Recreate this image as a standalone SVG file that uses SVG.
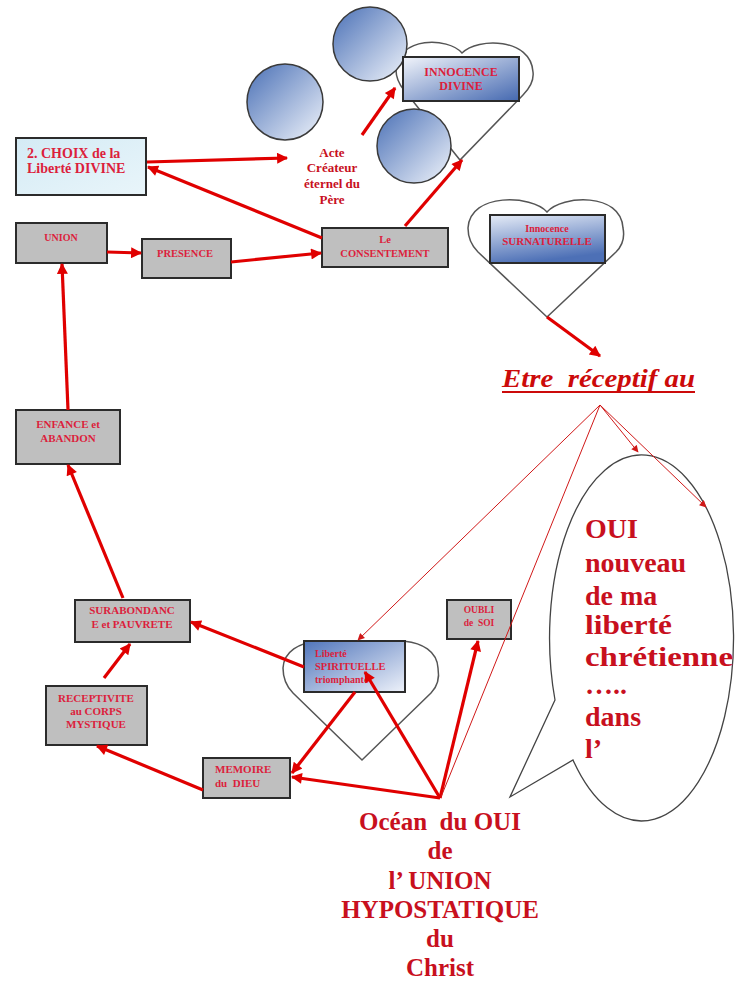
<svg xmlns="http://www.w3.org/2000/svg" width="736" height="982" viewBox="0 0 736 982">
<defs>
<linearGradient id="gCircle" x1="0" y1="0" x2="1" y2="1">
<stop offset="0" stop-color="#4a70b6"/><stop offset="1" stop-color="#f0f4fb"/>
</linearGradient>
<linearGradient id="gInno" x1="0" y1="0" x2="1" y2="1">
<stop offset="0" stop-color="#f2f5fb"/><stop offset="1" stop-color="#4468b0"/>
</linearGradient>
<linearGradient id="gSurn" x1="0" y1="0" x2="0.3" y2="1">
<stop offset="0" stop-color="#e6ecf7"/><stop offset="1" stop-color="#4d70b6"/>
</linearGradient>
<linearGradient id="gLib" x1="0" y1="0" x2="1" y2="1">
<stop offset="0" stop-color="#5075bb"/><stop offset="1" stop-color="#eef2fa"/>
</linearGradient>
<linearGradient id="gChoix" x1="0" y1="0" x2="1" y2="1">
<stop offset="0" stop-color="#d4ebf5"/><stop offset="1" stop-color="#e9f5fa"/>
</linearGradient>
<marker id="ah" viewBox="0 0 10 10" refX="9" refY="5" markerWidth="13" markerHeight="11" markerUnits="userSpaceOnUse" orient="auto">
<path d="M0,0 L10,5 L0,10 Z" fill="#e00000"/>
</marker>
<marker id="ahs" viewBox="0 0 10 10" refX="9" refY="5" markerWidth="9" markerHeight="7" markerUnits="userSpaceOnUse" orient="auto">
<path d="M0,0 L10,5 L0,10 Z" fill="#d01818"/>
</marker>
</defs>
<style>
.gray{fill:#bfbfbf;stroke:#2b2b2b;stroke-width:2}
.heart{fill:#ffffff;stroke:#555555;stroke-width:1.5}
.circ{fill:url(#gCircle);stroke:#3a3a3a;stroke-width:1.5}
.bt{font-family:"Liberation Serif",serif;font-weight:bold;fill:#dc1e3c}
.red{font-family:"Liberation Serif",serif;font-weight:bold;fill:#c8101e}
.arr{stroke:#e00000;stroke-width:3.2;fill:none;marker-end:url(#ah)}
.thin{stroke:#d01818;stroke-width:1;fill:none}
</style>
<rect width="736" height="982" fill="#ffffff"/>

<g id="innocence-divine">
<path class="heart" d="M462,53 C448,37 398,36 396,70 C396,78 399,84 404,90 L460,160 L523,95 C530,88 534,80 533,72 C531,38 478,37 462,53 Z"/>
<circle class="circ" cx="370" cy="44" r="37"/>
<circle class="circ" cx="414" cy="146" r="37"/>
<rect x="403" y="57" width="116" height="44" fill="url(#gInno)" stroke="#2b2b2b" stroke-width="2"/>
<text class="bt" font-size="12" text-anchor="middle" x="461" y="76">INNOCENCE</text>
<text class="bt" font-size="12" text-anchor="middle" x="461" y="90">DIVINE</text>
</g>
<g id="circle-left">
<circle class="circ" cx="285" cy="102" r="38"/>
</g>

<g id="choix">
<rect x="16" y="138" width="130" height="57" fill="url(#gChoix)" stroke="#2b2b2b" stroke-width="2"/>
<text class="bt" font-size="14" x="27" y="158">2. CHOIX de la</text>
<text class="bt" font-size="14" x="27" y="173">Liberté DIVINE</text>
</g>

<g id="acte">
<text class="red" font-size="13" text-anchor="middle" fill="#d41a2a" x="332" y="157">Acte</text>
<text class="red" font-size="13" text-anchor="middle" x="332" y="172">Créateur</text>
<text class="red" font-size="13" text-anchor="middle" x="332" y="188">éternel du</text>
<text class="red" font-size="13" text-anchor="middle" x="332" y="204">Père</text>
</g>

<g id="union">
<rect class="gray" x="16" y="223" width="91" height="40"/>
<text class="bt" font-size="10" text-anchor="middle" x="61" y="241">UNION</text>
</g>
<g id="presence">
<rect class="gray" x="142" y="239" width="89" height="39"/>
<text class="bt" font-size="10.5" text-anchor="middle" x="185" y="257">PRESENCE</text>
</g>
<g id="consentement">
<rect class="gray" x="322" y="228" width="126" height="39"/>
<text class="bt" font-size="10.5" text-anchor="middle" x="385" y="243">Le</text>
<text class="bt" font-size="10.5" text-anchor="middle" x="385" y="257">CONSENTEMENT</text>
</g>

<g id="innocence-surnaturelle">
<path class="heart" d="M547,212 C532,195 470,192 468,228 C468,238 472,246 478,252 L547,317 L616,252 C622,246 625,238 623,228 C621,192 562,195 547,212 Z"/>
<rect x="490" y="215" width="115" height="48" fill="url(#gSurn)" stroke="#2b2b2b" stroke-width="2"/>
<text class="bt" font-size="10" text-anchor="middle" x="547" y="232">Innocence</text>
<text class="bt" font-size="11" text-anchor="middle" x="547" y="245">SURNATURELLE</text>
</g>

<g id="etre">
<text font-family="Liberation Serif, serif" font-weight="bold" font-style="italic" font-size="25" fill="#cc0a0a" x="502" y="387" textLength="193" lengthAdjust="spacingAndGlyphs" xml:space="preserve">Etre  réceptif au</text>
<line x1="502" y1="392" x2="695" y2="392" stroke="#cc0a0a" stroke-width="2"/>
</g>

<g id="enfance">
<rect class="gray" x="16" y="410" width="104" height="54"/>
<text class="bt" font-size="11" text-anchor="middle" x="68" y="428">ENFANCE et</text>
<text class="bt" font-size="11" text-anchor="middle" x="68" y="442">ABANDON</text>
</g>

<g id="surabondance">
<rect class="gray" x="75" y="600" width="115" height="42"/>
<text class="bt" font-size="11" text-anchor="middle" x="132" y="614">SURABONDANC</text>
<text class="bt" font-size="11" text-anchor="middle" x="132" y="628">E et PAUVRETE</text>
</g>

<g id="receptivite">
<rect class="gray" x="46" y="686" width="101" height="59"/>
<text class="bt" font-size="11" text-anchor="middle" x="96" y="702">RECEPTIVITE</text>
<text class="bt" font-size="11" text-anchor="middle" x="96" y="715">au CORPS</text>
<text class="bt" font-size="11" text-anchor="middle" x="96" y="728">MYSTIQUE</text>
</g>

<g id="memoire">
<rect class="gray" x="203" y="758" width="87" height="40"/>
<text class="bt" font-size="11" x="215" y="773">MEMOIRE</text>
<text class="bt" font-size="11" x="215" y="787" xml:space="preserve">du  DIEU</text>
</g>

<g id="liberte">
<path class="heart" d="M361,652 C345,636 285,634 283,668 C283,680 288,688 293,693 L362,760 L431,693 C436,688 440,680 438,668 C436,634 377,636 361,652 Z"/>
<rect x="304" y="641" width="101" height="51" fill="url(#gLib)" stroke="#2b2b2b" stroke-width="2"/>
<text class="bt" font-size="10" x="315" y="657">Liberté</text>
<text class="bt" font-size="10.5" x="315" y="670">SPIRITUELLE</text>
<text class="bt" font-size="10" x="315" y="683">triomphante</text>
</g>

<g id="oubli">
<rect class="gray" x="447" y="600" width="64" height="39"/>
<text class="bt" font-size="9.5" text-anchor="middle" x="479" y="613">OUBLI</text>
<text class="bt" font-size="9.5" text-anchor="middle" x="479" y="626" xml:space="preserve">de  SOI</text>
</g>

<g id="bulle">
<path d="M555,700 L510,797 L573,760 A92,183 0 1 0 555,700 Z" fill="#ffffff" stroke="#444444" stroke-width="1.3"/>
<text class="red" font-size="28" x="585" y="538">OUI</text>
<text class="red" font-size="28" x="585" y="572">nouveau</text>
<text class="red" font-size="28" x="585" y="605">de ma</text>
<text class="red" font-size="28" x="585" y="634" textLength="87" lengthAdjust="spacingAndGlyphs">liberté</text>
<text class="red" font-size="28" x="585" y="666" textLength="148" lengthAdjust="spacingAndGlyphs">chrétienne</text>
<text class="red" font-size="28" x="585" y="694">…..</text>
<text class="red" font-size="28" x="585" y="726">dans</text>
<text class="red" font-size="28" x="585" y="758">l’</text>
</g>

<g id="ocean">
<text class="red" font-size="25" text-anchor="middle" x="440" y="830" xml:space="preserve">Océan  du OUI</text>
<text class="red" font-size="25" text-anchor="middle" x="440" y="859">de</text>
<text class="red" font-size="25" text-anchor="middle" x="440" y="889">l’ UNION</text>
<text class="red" font-size="25" text-anchor="middle" x="440" y="918">HYPOSTATIQUE</text>
<text class="red" font-size="25" text-anchor="middle" x="440" y="947">du</text>
<text class="red" font-size="25" text-anchor="middle" x="440" y="976">Christ</text>
</g>

<g id="connectors">
<line class="arr" x1="147" y1="162" x2="287" y2="158"/>
<line class="arr" x1="322" y1="238" x2="148" y2="167"/>
<line class="arr" x1="362" y1="135" x2="395" y2="88"/>
<line class="arr" x1="405" y1="226" x2="462" y2="160"/>
<line class="arr" x1="107" y1="252" x2="141" y2="253"/>
<line class="arr" x1="231" y1="262" x2="321" y2="253"/>
<line class="arr" x1="68" y1="410" x2="62" y2="264"/>
<line class="arr" x1="123" y1="598" x2="68" y2="465"/>
<line class="arr" x1="104" y1="678" x2="130" y2="644"/>
<line class="arr" x1="203" y1="790" x2="97" y2="746"/>
<line class="arr" x1="304" y1="667" x2="191" y2="622"/>
<line class="arr" x1="355" y1="692" x2="292" y2="773"/>
<line class="arr" x1="440" y1="798" x2="292" y2="777"/>
<line class="arr" x1="440" y1="798" x2="365" y2="672"/>
<line class="arr" x1="440" y1="798" x2="478" y2="641"/>
<line class="arr" x1="547" y1="317" x2="600" y2="356"/>
<line class="thin" x1="600" y1="405" x2="358" y2="640" marker-end="url(#ahs)"/>
<line class="thin" x1="600" y1="405" x2="441" y2="797"/>
<line class="thin" x1="600" y1="405" x2="638" y2="452" marker-end="url(#ahs)"/>
<line class="thin" x1="600" y1="405" x2="706" y2="507" marker-end="url(#ahs)"/>
</g>
</svg>
